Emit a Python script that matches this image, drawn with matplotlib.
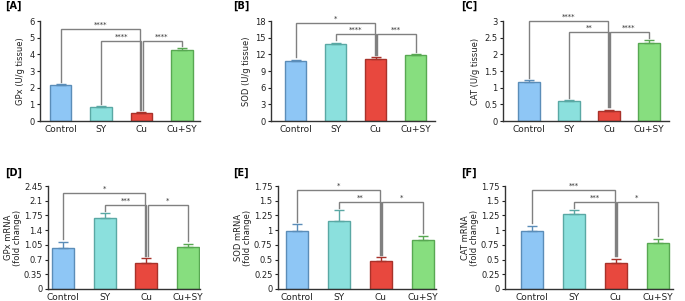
import numpy as np
import matplotlib
matplotlib.use("Agg")
import matplotlib.pyplot as plt

# --- data ---
groups = ["Control", "SY", "Cu", "Cu+SY"]

gpx_act = [2.15, 0.87, 0.47, 4.28]
gpx_act_err = [0.05, 0.03, 0.05, 0.08]
sod_act = [10.8, 13.9, 11.2, 11.8]
sod_act_err = [0.2, 0.15, 0.25, 0.2]
cat_act = [1.17, 0.61, 0.31, 2.33]
cat_act_err = [0.06, 0.02, 0.03, 0.1]

gpx_mrna = [0.98, 1.70, 0.63, 0.99]
gpx_mrna_err = [0.14, 0.10, 0.10, 0.08]
sod_mrna = [0.99, 1.16, 0.47, 0.83]
sod_mrna_err = [0.11, 0.18, 0.07, 0.07]
cat_mrna = [0.99, 1.27, 0.44, 0.79]
cat_mrna_err = [0.08, 0.07, 0.07, 0.06]

# brackets: (group a, group b, height, stars)
br_a = [(0, 2, 5.5, "****"), (1, 2, 4.82, "****"), (2, 3, 4.82, "****")]
br_b = [(0, 2, 17.6, "*"), (1, 2, 15.66, "****"), (2, 3, 15.66, "***")]
br_c = [(0, 2, 3.0, "****"), (1, 2, 2.67, "**"), (2, 3, 2.67, "****")]
br_d = [(0, 2, 2.29, "*"), (1, 2, 2.0, "***"), (2, 3, 2.0, "*")]
br_e = [(0, 2, 1.68, "*"), (1, 2, 1.485, "**"), (2, 3, 1.485, "*")]
br_f = [(0, 2, 1.68, "***"), (1, 2, 1.485, "***"), (2, 3, 1.485, "*")]

fills = ["#8ec6f5", "#8be0dd", "#e8483e", "#87de7f"]
edges = ["#5b8db8", "#5aa8a4", "#a8322a", "#58a852"]

W, H = 685, 301
fig = plt.figure(figsize=(W / 100, H / 100), dpi=100)


def px_axes(left, right, top, bottom):
    return fig.add_axes([left / W, 1 - bottom / H, (right - left) / W, (bottom - top) / H])


def panel(ax, vals, errs, brackets, ymax, ticks, ticklabels, ylabel, xlim, letter, lx, ly, lpad=3):
    x = np.arange(len(groups))
    ax.bar(x, vals, width=0.53, color=fills, edgecolor=edges, linewidth=1.0, zorder=2)
    for i in range(len(groups)):
        ax.errorbar(x[i], vals[i], yerr=[[0], [errs[i]]], fmt="none",
                    ecolor=edges[i], elinewidth=1.0, capsize=3.5, capthick=1.0, zorder=3)
    gap = ymax * 0.025
    for k, (a, b, h, s) in enumerate(brackets):
        xa = x[a] + (0.03 * (k - 1) if a == 2 else 0)
        xb = x[b] + (0.03 * (k - 1) if b == 2 else 0)
        ya = vals[a] + errs[a] + gap
        yb = vals[b] + errs[b] + gap
        ax.plot([xa, xa, xb, xb], [ya, h, h, yb], color="#808080", lw=1.0,
                clip_on=False, zorder=1, solid_joinstyle="miter")
        ax.text((x[a] + x[b]) / 2, h + ymax * 0.012, s, ha="center", va="bottom",
                fontsize=5, color="#333333")
    ax.set_ylim(0, ymax)
    ax.set_xlim(*xlim)
    ax.set_yticks(ticks)
    ax.set_yticklabels(ticklabels)
    ax.set_xticks(x)
    ax.set_xticklabels(groups)
    ax.tick_params(axis="x", length=0, labelsize=6.5, pad=3, colors="#222222")
    ax.tick_params(axis="y", length=2.5, width=0.8, labelsize=6, pad=1.5, colors="#222222")
    for sp in ["top", "right"]:
        ax.spines[sp].set_visible(False)
    for sp in ["left", "bottom"]:
        ax.spines[sp].set_color("#333333")
        ax.spines[sp].set_linewidth(1.0)
    ax.set_ylabel(ylabel, fontsize=6, color="#222222", labelpad=lpad, linespacing=1.0)
    fig.text(lx / W, 1 - ly / H, letter, fontsize=7, fontweight="bold", ha="left", va="center")


ax_a = px_axes(40, 200, 21, 121)
panel(ax_a, gpx_act, gpx_act_err, br_a, 6, np.arange(0, 7, 1),
      [str(v) for v in range(7)], "GPx (U/g tissue)", (-0.51, 3.45), "[A]", 5, 6)

ax_b = px_axes(271, 435, 21, 121)
panel(ax_b, sod_act, sod_act_err, br_b, 18, np.arange(0, 19, 3),
      [str(v) for v in range(0, 19, 3)], "SOD (U/g tissue)", (-0.62, 3.48), "[B]", 233, 6)

ax_c = px_axes(503, 669, 21, 121)
panel(ax_c, cat_act, cat_act_err, br_c, 3, np.arange(0, 3.01, 0.5),
      ["0", "0.5", "1", "1.5", "2", "2.5", "3"], "CAT (U/g tissue)", (-0.65, 3.5), "[C]", 461, 6)

ax_d = px_axes(48, 200, 186, 289)
panel(ax_d, gpx_mrna, gpx_mrna_err, br_d, 2.45, np.arange(0, 2.46, 0.35),
      ["0", "0.35", "0.7", "1.05", "1.4", "1.75", "2.1", "2.45"],
      "GPx mRNA\n(fold change)", (-0.36, 3.29), "[D]", 5, 173, lpad=1.5)

ax_e = px_axes(278, 436, 186, 289)
panel(ax_e, sod_mrna, sod_mrna_err, br_e, 1.75, np.arange(0, 1.76, 0.25),
      ["0", "0.25", "0.5", "0.75", "1", "1.25", "1.5", "1.75"],
      "SOD mRNA\n(fold change)", (-0.45, 3.31), "[E]", 233, 173, lpad=1.5)

ax_f = px_axes(505, 673, 186, 289)
panel(ax_f, cat_mrna, cat_mrna_err, br_f, 1.75, np.arange(0, 1.76, 0.25),
      ["0", "0.25", "0.5", "0.75", "1", "1.25", "1.5", "1.75"],
      "CAT mRNA\n(fold change)", (-0.64, 3.36), "[F]", 461, 173, lpad=1.5)

fig.savefig("out.png", dpi=100)
